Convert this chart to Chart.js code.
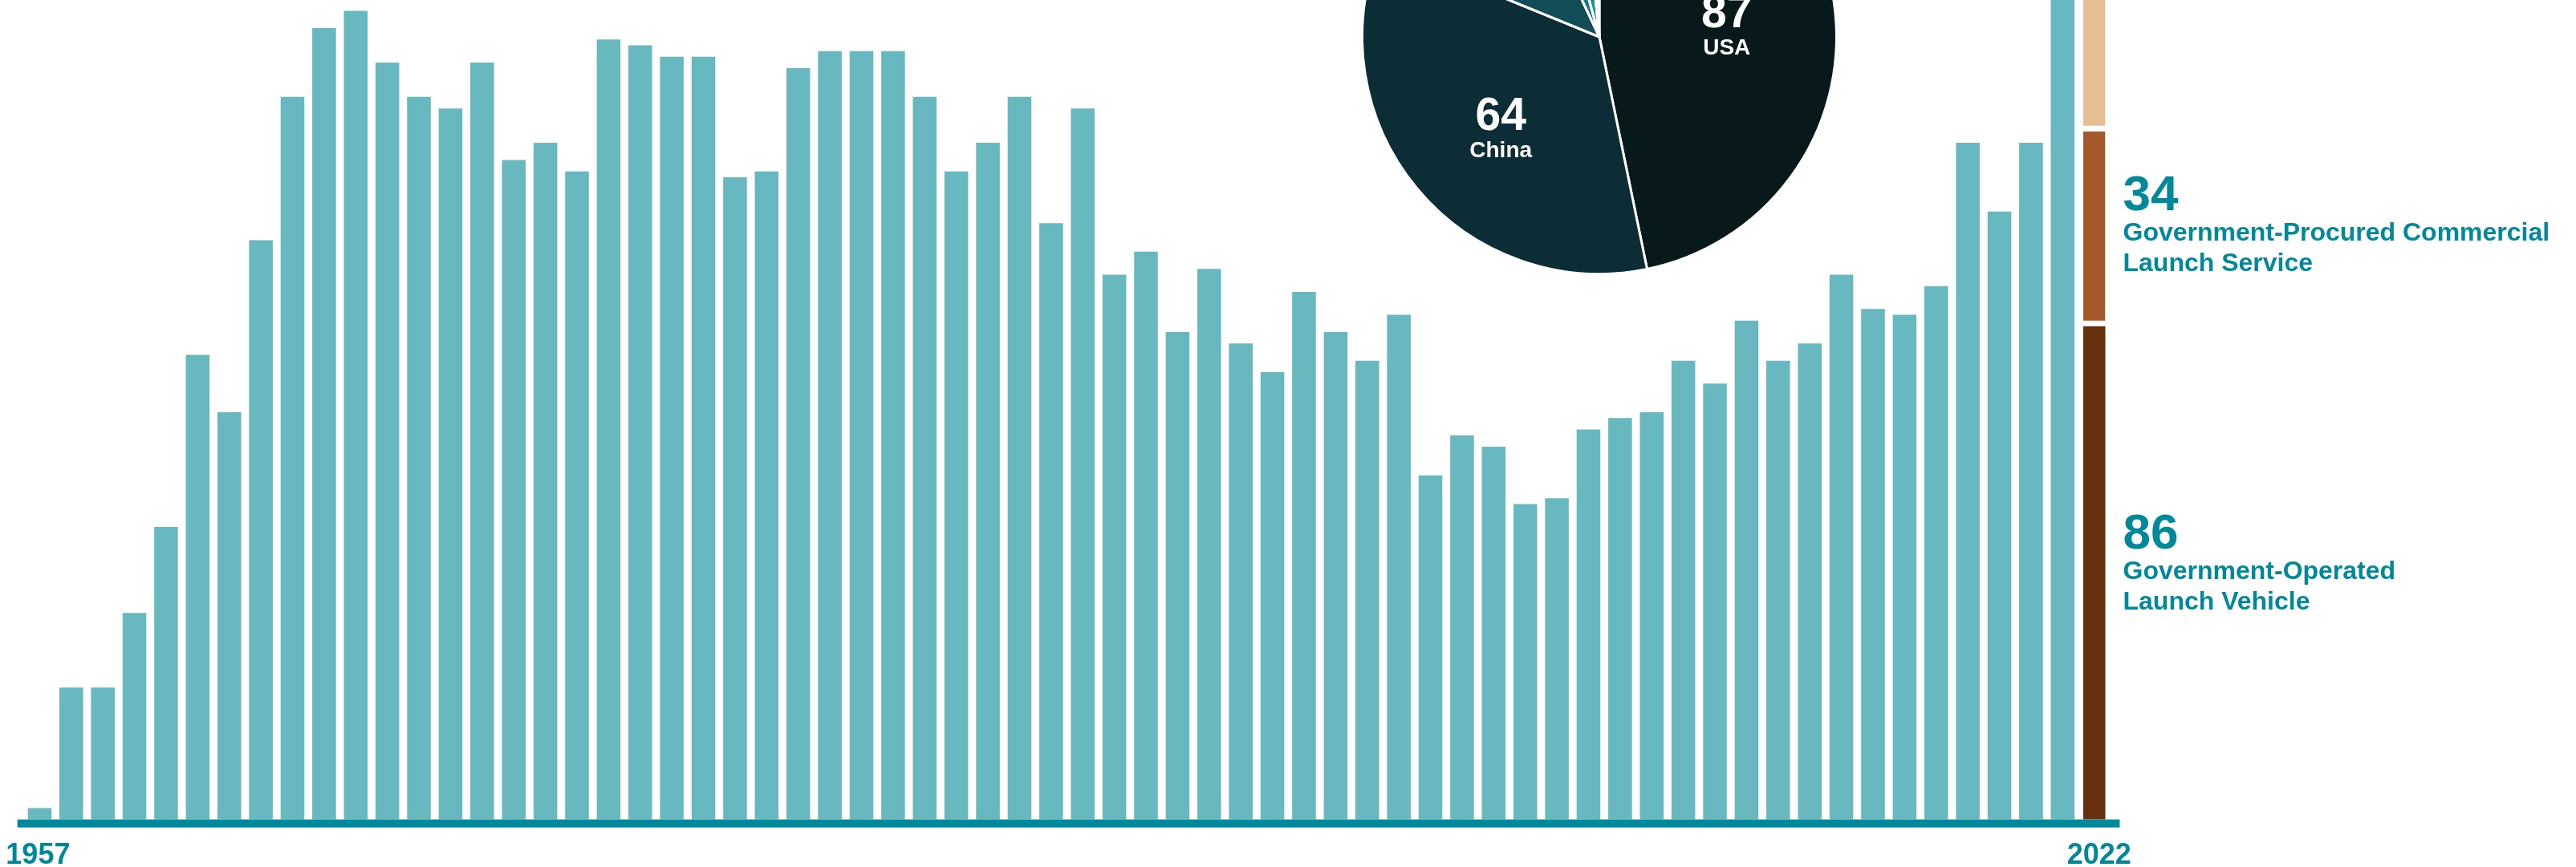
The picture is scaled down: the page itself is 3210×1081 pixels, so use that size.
<!DOCTYPE html>
<html>
<head>
<meta charset="utf-8">
<script src="https://cdn.jsdelivr.net/npm/chart.js@4.4.1/dist/chart.umd.min.js"></script>
<style>
  html, body { margin: 0; padding: 0; background: #fff; overflow: hidden; }
  #wrap { position: relative; width: 3210px; height: 1081px; }
  #barBox { position: absolute; left: 0; top: 0; width: 3210px; height: 1081px; }
  #pieBox { position: absolute; left: 1682.5px; top: -264px; width: 620px; height: 620px; }
</style>
</head>
<body>
<div id="wrap">
  <div id="barBox"><canvas id="barChart"></canvas></div>
  <div id="pieBox"><canvas id="pieChart"></canvas></div>
</div>
<script>
// launches per year, 1957 - 2021
const launches = [2, 23, 23, 36, 51, 81, 71, 101, 126, 138, 141, 132, 126, 124, 132, 115, 118, 113, 136, 135,
    133, 133, 112, 113, 131, 134, 134, 134, 126, 113, 118, 126, 104, 124, 95, 99, 85, 96, 83, 78,
    92, 85, 80, 88, 60, 67, 65, 55, 56, 68, 70, 71, 80, 76, 87, 80, 83, 95, 89, 88,
    93, 118, 106, 118, 146];

// 2022 by launch type
const govOperated = 86;
const govProcured = 34;
const commercial = 66;

// 2022 by country
const countries = ['USA', 'China', 'Russia', 'Europe', 'India', 'Japan', 'Iran', 'South Korea'];
const countryLaunches = [87, 64, 22, 5, 5, 1, 1, 1];
const countryColors = ['#07191b', '#0c2d35', '#124c57', '#167684', '#1f8f9b', '#3aa3ad', '#5ab4bb', '#7cc5ca'];

const firstTick = '1957';
const lastTick = '2022';

const TEAL = '#00899a';
const FONT = "'Liberation Sans', Arial, sans-serif";

let years = [];
for (let y = 1957; y <= 2021; y++) years.push(String(y));
const categories = years.concat(['2022']);
const n = categories.length;

function onlyLast(v) {
    let arr = new Array(n).fill(null);
    arr[n - 1] = v;
    return arr;
}

// thick teal baseline and the two end year labels
const axisPlugin = {
    id: 'axisLine',
    afterDatasetsDraw(chart) {
        const ctx = chart.ctx, a = chart.chartArea, x = chart.scales.x;
        ctx.save();
        ctx.fillStyle = TEAL;
        ctx.fillRect(a.left - 8, a.bottom, a.right - a.left + 20, 10);
        ctx.font = 'bold 36px ' + FONT;
        ctx.textAlign = 'center';
        ctx.textBaseline = 'alphabetic';
        ctx.fillText(firstTick, x.getPixelForValue(0) - 2, a.bottom + 55);
        ctx.fillText(lastTick, x.getPixelForValue(n - 1) + 6, a.bottom + 55);
        ctx.restore();
    }
};

const sideLabels = [
    { ds: 2, num: String(govProcured), lines: ['Government-Procured Commercial', 'Launch Service'], shift: -9 },
    { ds: 1, num: String(govOperated), lines: ['Government-Operated', 'Launch Vehicle'], shift: -16 }
];

const sideLabelPlugin = {
    id: 'sideLabels',
    afterDraw(chart) {
        const ctx = chart.ctx;
        ctx.save();
        ctx.fillStyle = TEAL;
        ctx.textAlign = 'left';
        ctx.textBaseline = 'alphabetic';
        sideLabels.forEach(l => {
            const bar = chart.getDatasetMeta(l.ds).data[n - 1];
            const x = bar.x + bar.width / 2 + 22;
            const c = (bar.y + bar.base) / 2 + l.shift;
            ctx.font = 'bold 62px ' + FONT;
            ctx.fillText(l.num, x, c - 14);
            ctx.font = 'bold 32px ' + FONT;
            ctx.fillText(l.lines[0], x, c + 23.5);
            ctx.fillText(l.lines[1], x, c + 61.5);
        });
        ctx.restore();
    }
};

const barCtx = document.getElementById('barChart').getContext('2d');
const barChart = new Chart(barCtx, {
    type: 'bar',
    data: {
        labels: categories,
        datasets: [
            {
                label: 'Launches',
                data: launches.concat([null]),
                backgroundColor: '#67b8bf',
                barPercentage: 0.75,
                categoryPercentage: 1
            },
            {
                label: 'Government-Operated Launch Vehicle',
                data: onlyLast(govOperated),
                backgroundColor: '#66300d',
                barPercentage: 0.7,
                categoryPercentage: 1
            },
            {
                label: 'Government-Procured Commercial Launch Service',
                data: onlyLast(govProcured),
                backgroundColor: '#a3592a',
                borderColor: '#ffffff',
                borderWidth: { top: 0, right: 0, bottom: 7, left: 0 },
                borderSkipped: false,
                barPercentage: 0.7,
                categoryPercentage: 1
            },
            {
                label: 'Commercial',
                data: onlyLast(commercial),
                backgroundColor: '#e5bf93',
                borderColor: '#ffffff',
                borderWidth: { top: 0, right: 0, bottom: 7, left: 0 },
                borderSkipped: false,
                barPercentage: 0.7,
                categoryPercentage: 1
            }
        ]
    },
    options: {
        responsive: true,
        maintainAspectRatio: false,
        devicePixelRatio: 1,
        animation: false,
        layout: { padding: { left: 29.7, right: 580.6, top: 0, bottom: 0 } },
        plugins: { legend: { display: false }, tooltip: { enabled: false } },
        scales: {
            x: {
                stacked: true,
                grid: { display: false, drawTicks: false },
                border: { display: false },
                ticks: { display: false },
                afterFit: function (scale) { scale.height = 59.3; }
            },
            y: {
                stacked: true,
                display: false,
                min: 0,
                max: 142.9
            }
        }
    },
    plugins: [axisPlugin, sideLabelPlugin]
});

const pieLabelShift = [0, 10];

const pieLabelPlugin = {
    id: 'pieLabels',
    afterDatasetsDraw(chart) {
        const ctx = chart.ctx;
        const arcs = chart.getDatasetMeta(0).data;
        ctx.save();
        ctx.fillStyle = '#ffffff';
        ctx.textAlign = 'center';
        ctx.textBaseline = 'alphabetic';
        arcs.forEach((arc, i) => {
            if (countryLaunches[i] < 20) return;
            const mid = (arc.startAngle + arc.endAngle) / 2;
            const r = arc.outerRadius * 0.54;
            const x = arc.x + Math.cos(mid) * r;
            const y = arc.y + Math.sin(mid) * r + (pieLabelShift[i] || 0);
            ctx.font = 'bold 57px ' + FONT;
            ctx.fillText(String(countryLaunches[i]), x, y + 4);
            ctx.font = 'bold 28px ' + FONT;
            ctx.fillText(countries[i], x, y + 38);
        });
        ctx.restore();
    }
};

const pieCtx = document.getElementById('pieChart').getContext('2d');
const pieChart = new Chart(pieCtx, {
    type: 'pie',
    data: {
        labels: countries,
        datasets: [{
            data: countryLaunches,
            backgroundColor: countryColors,
            borderColor: '#ffffff',
            borderWidth: 3
        }]
    },
    options: {
        responsive: true,
        maintainAspectRatio: false,
        devicePixelRatio: 1,
        animation: false,
        layout: { padding: 13 },
        plugins: { legend: { display: false }, tooltip: { enabled: false } }
    },
    plugins: [pieLabelPlugin]
});
</script>
</body>
</html>
